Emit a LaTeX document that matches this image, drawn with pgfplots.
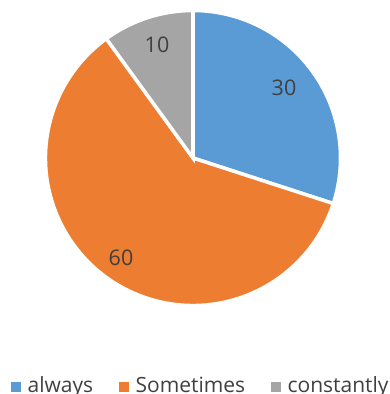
\documentclass[border=0pt]{standalone}
\usepackage{pgfplots}
\usepackage{pgfplotstable}
\pgfplotsset{compat=1.18}
\usepackage{fontspec}
\setmainfont{Open Sans}
\definecolor{cAlways}{HTML}{5B9BD5}
\definecolor{cSome}{HTML}{ED7D31}
\definecolor{cConst}{HTML}{A5A5A5}
\definecolor{txt}{HTML}{404040}
\pgfplotstableread{
label value
always 30
Sometimes 60
constantly 10
}\piedata
\begin{document}
\begin{tikzpicture}
\begin{axis}[
  anchor=origin, at={(0,0)},
  x=1bp, y=1bp, scale only axis,
  xmin=0, xmax=390, ymin=0, ymax=394,
  hide axis, clip=false,
  legend columns=3,
  legend style={draw=none, fill=none, at={(axis cs:8,-2)}, anchor=south west,
    font=\fontsize{21bp}{25bp}\selectfont, text=txt,
    /tikz/every odd column/.append style={column sep=7bp},
    /tikz/every even column/.append style={column sep=26bp},
    nodes={inner sep=0pt, anchor=base west}},
  legend image code/.code={\fill[#1] (0bp,1bp) rectangle (9bp,10bp);},
]
% slices: always 30 from 90 clockwise, Sometimes 60, constantly 10
\pgfplotstablegetelem{0}{value}\of\piedata \let\va\pgfplotsretval
\pgfplotstablegetelem{1}{value}\of\piedata \let\vb\pgfplotsretval
\pgfplotstablegetelem{2}{value}\of\piedata \let\vc\pgfplotsretval
\pgfmathsetmacro{\tot}{\va+\vb+\vc}
\pgfmathsetmacro{\aA}{90}
\pgfmathsetmacro{\aB}{90-360*(\va/\tot)}
\pgfmathsetmacro{\aC}{\aB-360*(\vb/\tot)}
\pgfmathsetmacro{\aD}{\aC-360*(\vc/\tot)}
\fill[cAlways, draw=white, line width=3.5bp, line join=miter]
  (axis cs:193,236) -- ++(\aA:147.5bp) arc[start angle=\aA, end angle=\aB, radius=147.5bp] -- cycle;
\fill[cSome, draw=white, line width=3.5bp, line join=miter]
  (axis cs:193,236) -- ++(\aB:147.5bp) arc[start angle=\aB, end angle=\aC, radius=147.5bp] -- cycle;
\fill[cConst, draw=white, line width=3.5bp, line join=miter]
  (axis cs:193,236) -- ++(\aC:147.5bp) arc[start angle=\aC, end angle=\aD, radius=147.5bp] -- cycle;
\node[text=txt, font=\fontsize{21.5bp}{25bp}\selectfont] at (axis cs:284,306) {\va};
\node[text=txt, font=\fontsize{21.5bp}{25bp}\selectfont] at (axis cs:121,136) {\vb};
\node[text=txt, font=\fontsize{21.5bp}{25bp}\selectfont] at (axis cs:157,349) {\vc};
\addlegendimage{cAlways}
\addlegendentry{always}
\addlegendimage{cSome}
\addlegendentry{Sometimes}
\addlegendimage{cConst}
\addlegendentry{constantly}
\end{axis}
\pgfresetboundingbox
\useasboundingbox (0,0) rectangle (390bp,394bp);
\end{tikzpicture}
\end{document}
